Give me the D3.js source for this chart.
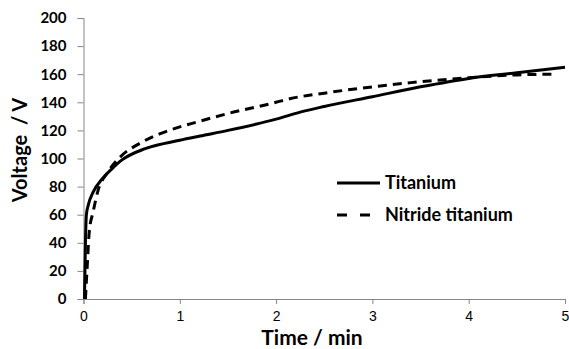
<!DOCTYPE html>
<html>
<head>
<meta charset="utf-8">
<script src="https://cdn.jsdelivr.net/npm/d3@7"></script>
<style>
  html, body { margin: 0; padding: 0; background: #fff; }
  svg { display: block; }
</style>
</head>
<body>
<div id="chart"></div>
<script>
const seriesNames = ["Titanium", "Nitride titanium"];
const titaniumTime = [0.01, 0.02, 0.03, 0.05, 0.1, 0.2, 0.3, 0.4, 0.64, 1, 1.21, 1.5, 2, 2.25, 2.5, 3, 3.5, 4, 4.5, 5];
const titaniumVoltage = [0, 40, 60, 67, 76, 86, 93, 99, 107, 113, 116, 120, 128, 133, 137, 144, 151, 157, 161, 165];
const nitrideTime = [0.02, 0.04, 0.06, 0.1, 0.15, 0.25, 0.38, 0.59, 0.79, 1, 1.18, 1.5, 2, 2.14, 2.5, 3, 3.4, 4, 4.5, 4.9];
const nitrideVoltage = [0, 25, 48, 62, 77, 90, 101, 111, 117.5, 122.5, 126, 132, 140, 142.5, 146.5, 151, 154, 157.5, 159.5, 160];
const xTicks = [0, 1, 2, 3, 4, 5];
const yTicks = [0, 20, 40, 60, 80, 100, 120, 140, 160, 180, 200];
const xTitle = "Time / min";
const yTitle = "Voltage  / V";

const W = 569, H = 349;
const svg = d3.select("#chart").append("svg").attr("width", W).attr("height", H);

const x = d3.scaleLinear().domain([0, 5]).range([83.5, 565]);
const y = d3.scaleLinear().domain([0, 200]).range([299, 18]);

const axisColor = "#868686";
const font = "Lato, 'Open Sans', sans-serif";

// axes
const gx = svg.append("g").attr("transform", "translate(0,299)")
  .call(d3.axisBottom(x).tickValues(xTicks).tickSize(5).tickPadding(5).tickFormat(d3.format("d")));
gx.select(".domain").attr("stroke", axisColor);
gx.selectAll(".tick line").attr("stroke", axisColor);
gx.selectAll(".tick text").attr("font-family", "'Liberation Sans', Arial, sans-serif")
  .attr("font-size", 14).attr("fill", "#000").attr("dy", "0.85em");

const gy = svg.append("g").attr("transform", "translate(83.5,0)")
  .call(d3.axisLeft(y).tickValues(yTicks).tickSize(6).tickPadding(11));
gy.select(".domain").attr("stroke", axisColor);
gy.selectAll(".tick line").attr("stroke", axisColor);
gy.selectAll(".tick text").attr("font-family", font).attr("font-weight", "bold")
  .attr("font-size", 15).attr("fill", "#000");

// titles
svg.append("text").attr("x", 312).attr("y", 345).attr("text-anchor", "middle")
  .attr("font-family", font).attr("font-weight", "bold").attr("font-size", 21).attr("fill", "#000")
  .text(xTitle);
svg.append("text").attr("transform", "translate(27,150) rotate(-90)").attr("text-anchor", "middle")
  .attr("font-family", font).attr("font-weight", "bold").attr("font-size", 20).attr("fill", "#000")
  .style("white-space", "pre").text(yTitle);

// lines
const line = d3.line().x(d => x(d[0])).y(d => y(d[1])).curve(d3.curveMonotoneX);
const tiData = titaniumTime.map((t, i) => [t, titaniumVoltage[i]]);
const niData = nitrideTime.map((t, i) => [t, nitrideVoltage[i]]);

svg.append("path").datum(niData).attr("d", line).attr("fill", "none")
  .attr("stroke", "#000").attr("stroke-width", 3).attr("stroke-dasharray", "9,6");
svg.append("path").datum(tiData).attr("d", line).attr("fill", "none")
  .attr("stroke", "#000").attr("stroke-width", 3);

// legend
const legend = svg.append("g");
const legY = [183, 215];
seriesNames.forEach((name, i) => {
  legend.append("line").attr("x1", 337).attr("x2", 380).attr("y1", legY[i]).attr("y2", legY[i])
    .attr("stroke", "#000").attr("stroke-width", 3)
    .attr("stroke-dasharray", i === 1 ? "10,13" : null);
  legend.append("text").attr("x", 385).attr("y", legY[i]).attr("dy", "0.35em")
    .attr("font-family", font).attr("font-weight", "bold").attr("font-size", 18).attr("fill", "#000")
    .text(name);
});
</script>
</body>
</html>
